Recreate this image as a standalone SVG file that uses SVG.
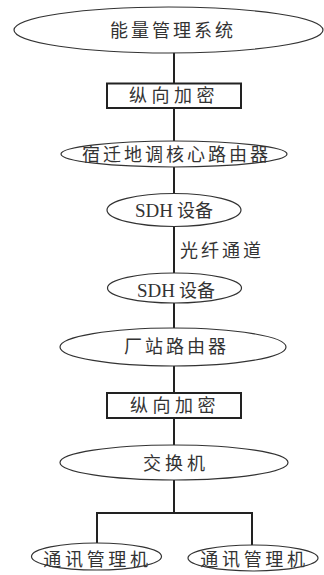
<svg xmlns="http://www.w3.org/2000/svg" width="324" height="575" viewBox="0 0 324 575">
<style>
.n{fill:#fff;stroke:#333;stroke-width:1.2}
.b{fill:#fff;stroke:#222;stroke-width:2}
.t{font-family:"Noto Sans CJK SC",sans-serif;font-size:18px;fill:#333;text-anchor:middle;letter-spacing:3px}
.s{font-family:"Liberation Serif",serif;font-size:19px}
.c{fill:none;stroke:#222;stroke-width:2}
</style>
<rect width="324" height="575" fill="#fff"/>
<g id="connectors">
<line class="c" x1="174" y1="52" x2="174" y2="84"/>
<line class="c" x1="174" y1="107" x2="174" y2="142"/>
<line class="c" x1="174" y1="166" x2="174" y2="194"/>
<line class="c" x1="174" y1="226" x2="174" y2="274"/>
<line class="c" x1="174" y1="302" x2="174" y2="329"/>
<line class="c" x1="174" y1="365" x2="174" y2="394"/>
<line class="c" x1="174" y1="417" x2="174" y2="446"/>
<path class="c" d="M174 480 V513 M97 544 V513 H252 V547"/>
</g>
<g id="n1"><ellipse class="n" cx="168.5" cy="30" rx="154.5" ry="23"/><text class="t" x="173" y="36.5">能量管理系统</text></g>
<g id="n2"><rect class="b" x="107" y="83.5" width="134" height="24.5"/><text class="t" x="174" y="102" style="letter-spacing:4.5px">纵向加密</text></g>
<g id="n3"><ellipse class="n" cx="174" cy="154" rx="113" ry="13"/><text class="t" x="176.5" y="160.5">宿迁地调核心路由器</text></g>
<g id="n4"><ellipse class="n" cx="174" cy="210" rx="67" ry="16.5"/><text class="t" x="174" y="217" style="letter-spacing:0"><tspan class="s">SDH</tspan> 设备</text></g>
<text class="t" x="222" y="256.5">光纤通道</text>
<g id="n5"><ellipse class="n" cx="174.5" cy="288" rx="67" ry="15"/><text class="t" x="176" y="297" style="letter-spacing:0"><tspan class="s">SDH</tspan> 设备</text></g>
<g id="n6"><ellipse class="n" cx="173" cy="347" rx="113" ry="19"/><text class="t" x="176.5" y="353">厂站路由器</text></g>
<g id="n7"><rect class="b" x="107" y="393" width="134" height="25"/><text class="t" x="175" y="412" style="letter-spacing:4.5px">纵向加密</text></g>
<g id="n8"><ellipse class="n" cx="174" cy="462.5" rx="114" ry="17.5"/><text class="t" x="176" y="469.5" style="letter-spacing:4px">交换机</text></g>
<g id="n9"><ellipse class="n" cx="96.5" cy="556.5" rx="65" ry="13.5"/><text class="t" x="97.5" y="565.5" style="letter-spacing:3.7px">通讯管理机</text></g>
<g id="n10"><ellipse class="n" cx="253" cy="558" rx="65" ry="13"/><text class="t" x="254.5" y="565.5" style="letter-spacing:3.7px">通讯管理机</text></g>
</svg>
